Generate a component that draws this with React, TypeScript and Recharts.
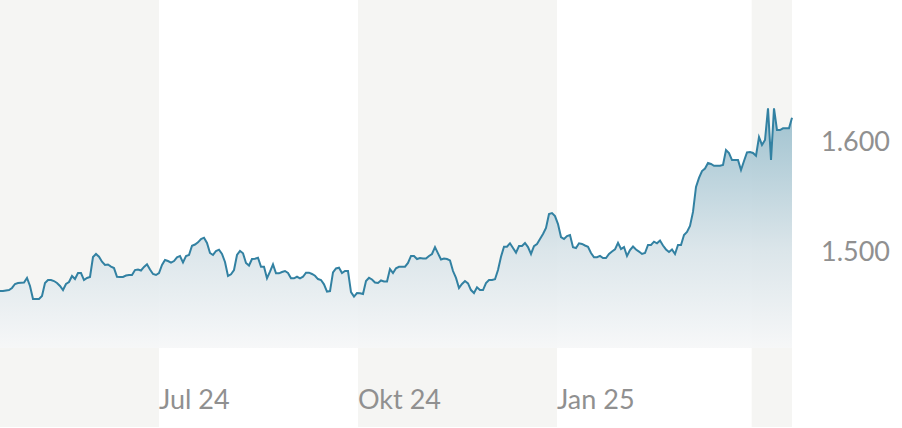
import { AreaChart, Area, XAxis, YAxis, ReferenceArea } from 'recharts';

// closing prices, one sample per step, starting mid April 2024
const prices = [
  1463.6, 1463.6, 1464.1, 1464.5, 1466.4, 1470.0, 1470.9, 1471.2, 1471.4, 1475.5,
  1468.2, 1456.4, 1456.4, 1456.4, 1459.1, 1470.9, 1473.6, 1473.6, 1472.7, 1470.9,
  1468.2, 1464.5, 1470.0, 1471.8, 1477.3, 1474.5, 1480.0, 1480.0, 1473.6, 1475.5,
  1476.4, 1494.5, 1497.3, 1494.8, 1490.3, 1487.3, 1487.7, 1485.9, 1484.5, 1476.6,
  1476.4, 1476.4, 1477.7, 1478.2, 1478.2, 1482.7, 1483.2, 1482.3, 1485.5, 1487.9,
  1483.2, 1479.1, 1478.2, 1480.0, 1487.3, 1491.8, 1490.9, 1489.5, 1490.9, 1494.3,
  1495.5, 1489.7, 1495.5, 1496.4, 1504.8, 1505.9, 1507.9, 1510.9, 1512.1, 1507.3,
  1498.2, 1496.4, 1500.0, 1501.2, 1497.3, 1490.0, 1477.3, 1478.8, 1482.7, 1496.4,
  1500.0, 1497.9, 1489.1, 1486.8, 1492.7, 1493.0, 1493.9, 1485.7, 1485.7, 1475.2,
  1481.2, 1487.9, 1479.7, 1479.7, 1480.9, 1481.8, 1480.0, 1475.2, 1475.2, 1476.6,
  1475.2, 1476.6, 1480.3, 1480.3, 1479.1, 1477.5, 1474.5, 1473.6, 1469.7, 1463.0,
  1463.6, 1480.6, 1484.1, 1484.8, 1480.0, 1481.8, 1481.8, 1462.7, 1458.5, 1461.8,
  1461.5, 1460.9, 1472.7, 1475.6, 1474.1, 1471.4, 1470.9, 1473.2, 1472.3, 1472.3,
  1483.6, 1480.0, 1484.3, 1485.7, 1485.7, 1485.7, 1489.1, 1495.5, 1495.5, 1492.7,
  1493.6, 1493.2, 1493.2, 1495.5, 1497.3, 1503.6, 1497.9, 1492.3, 1493.2, 1492.7,
  1491.4, 1481.8, 1475.5, 1466.4, 1470.0, 1472.7, 1470.6, 1464.5, 1461.8, 1467.0,
  1464.5, 1464.5, 1470.9, 1473.6, 1473.6, 1474.3, 1482.7, 1494.8, 1503.9, 1503.9,
  1507.0, 1502.7, 1498.5, 1504.5, 1504.5, 1507.3, 1503.6, 1497.3, 1504.5, 1506.4,
  1510.9, 1515.5, 1520.9, 1533.6, 1534.5, 1531.8, 1524.5, 1512.7, 1510.9, 1513.6,
  1514.5, 1503.4, 1502.7, 1507.0, 1506.4, 1505.0, 1503.9, 1498.2, 1494.3, 1494.3,
  1495.5, 1493.6, 1493.6, 1497.3, 1499.5, 1501.5, 1507.5, 1501.8, 1503.6, 1495.5,
  1500.9, 1504.1, 1501.4, 1499.5, 1497.3, 1498.2, 1505.5, 1505.5, 1508.5, 1507.0,
  1509.5, 1505.0, 1501.4, 1499.1, 1501.4, 1497.3, 1505.5, 1505.5, 1514.5, 1517.3,
  1522.7, 1535.5, 1558.2, 1566.4, 1572.7, 1575.0, 1580.0, 1579.1, 1577.5, 1577.5,
  1577.5, 1578.2, 1591.8, 1589.1, 1582.7, 1582.7, 1582.7, 1573.6, 1581.8, 1589.7,
  1590.0, 1589.1, 1586.6, 1603.6, 1596.4, 1600.9, 1629.7, 1582.7, 1629.7, 1610.0,
  1610.0, 1611.5, 1611.5, 1611.5, 1621.2,
];

const DAY = 24 * 3600 * 1000;
const startTime = Date.UTC(2024, 3, 18, 12);
const stepDays = 1.38693;
const endTime = startTime + (prices.length - 1) * stepDays * DAY;

const tickDates = [Date.UTC(2024, 6, 1), Date.UTC(2024, 9, 1), Date.UTC(2025, 0, 1)];
const tickLabels = ['Jul 24', 'Okt 24', 'Jan 25'];
const yTicks = [1500, 1600];

// shaded quarters
const shadedQuarters: [number, number][] = [
  [startTime, Date.UTC(2024, 6, 1)],
  [Date.UTC(2024, 9, 1), Date.UTC(2025, 0, 1)],
  [Date.UTC(2025, 3, 1), endTime],
];

const data = prices.map((price, i) => ({ t: startTime + i * stepDays * DAY, price }));

const labelStyle = { fill: '#909090', fontSize: 27, fontFamily: 'Lato, sans-serif' };

const fmt = (v: number) => {
  const s = String(Math.round(v));
  return s.length > 3 ? s.slice(0, -3) + '.' + s.slice(-3) : s;
};

function XTick({ x, y, payload }: any) {
  const idx = tickDates.indexOf(payload.value);
  return (
    <text x={x} y={y - 18} textAnchor="start" {...labelStyle}>
      {tickLabels[idx] ?? ''}
    </text>
  );
}

function YTick({ x, y, payload }: any) {
  return (
    <text x={x + 29} y={y + 10} textAnchor="start" {...labelStyle}>
      {fmt(payload.value)}
    </text>
  );
}

export default function App() {
  return (
    <div style={{ position: 'absolute', left: 0, top: 0, width: 902, height: 428, background: '#fff' }}>
      <AreaChart width={902} height={428} data={data} margin={{ top: 0, right: 0, left: 0, bottom: 0 }}>
        <defs>
          <linearGradient id="priceFill" x1="0" y1="0" x2="0" y2="1">
            <stop offset="0%" stopColor="#97bdcc" />
            <stop offset="59%" stopColor="#d9e4e9" />
            <stop offset="100%" stopColor="#f6f7f8" />
          </linearGradient>
        </defs>
        {shadedQuarters.map(([a, b]) => (
          <ReferenceArea
            key={a}
            x1={a}
            x2={b}
            fill="#f5f5f3"
            fillOpacity={1}
            stroke="none"
            ifOverflow="visible"
            zIndex={-10}
          />
        ))}
        <XAxis
          dataKey="t"
          type="number"
          domain={[startTime, endTime]}
          ticks={tickDates}
          tick={<XTick />}
          height={1}
          tickSize={0}
          tickMargin={0}
          axisLine={false}
          tickLine={false}
          interval={0}
        />
        <YAxis
          orientation="right"
          width={110}
          domain={[1340.0, 1728.2]}
          ticks={yTicks}
          tick={<YTick />}
          tickSize={0}
          tickMargin={0}
          axisLine={false}
          tickLine={false}
          interval={0}
        />
        <Area
          type="linear"
          dataKey="price"
          baseValue={1411.8}
          stroke="#3281a2"
          strokeWidth={2}
          fill="url(#priceFill)"
          fillOpacity={0.92}
          dot={false}
          activeDot={false}
          isAnimationActive={false}
        />
      </AreaChart>
    </div>
  );
}
